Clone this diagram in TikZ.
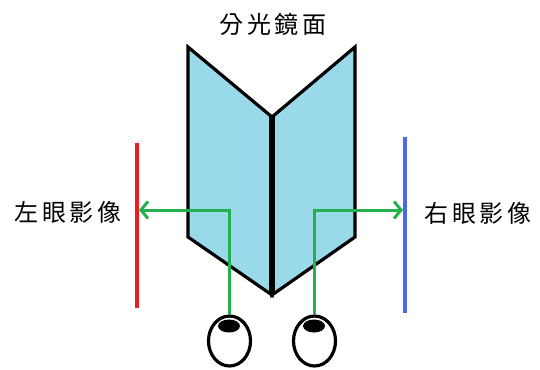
\documentclass[tikz,border=0pt]{standalone}
\usepackage{fontspec}
\newfontfamily\cjk[LetterSpace=14]{Noto Sans CJK TC}
\usetikzlibrary{arrows.meta,shapes.geometric}

\definecolor{mirrorblue}{RGB}{153,217,234}
\definecolor{raygreen}{RGB}{34,177,76}
\definecolor{leftred}{RGB}{237,28,36}
\definecolor{rightblue}{RGB}{72,104,240}

\begin{document}
\begin{tikzpicture}[x=1pt,y=1pt,yscale=-1,xscale=1,
  label/.style = {font=\cjk\fontsize{24}{28}\selectfont, inner sep=0pt},
  panel/.style = {draw=black, line width=3.2pt, fill=mirrorblue, line join=miter},
  ray/.style = {draw=raygreen, line width=3pt},
  screen/.style = {line width=4.4pt},
  eye/.style = {draw, ellipse, line width=3.2pt, minimum width=42pt, minimum height=50pt, inner sep=0pt},
  pupil/.style = {fill=black, ellipse, minimum width=22pt, minimum height=13pt, inner sep=0pt},
  >={Straight Barb[length=7pt,width=17pt]}
  ]
  \useasboundingbox (0,0) rectangle (540,369);

  % the two halves of the mirror
  \coordinate (top) at (272,117);
  \coordinate (bottom) at (272,295);
  \draw[panel] (188,47) -- (top) -- (bottom) -- (188,237) -- cycle;
  \draw[panel] (355,47) -- (top) -- (bottom) -- (355,237) -- cycle;
  \draw[line width=5.4pt] (top) -- (bottom);

  \node[label] (title) at (273,24) {分光鏡面};

  % image planes
  \coordinate (ltop) at (137,143);
  \coordinate (lbot) at (137,308);
  \coordinate (rtop) at (405,137);
  \coordinate (rbot) at (405,313);
  \draw[screen, leftred] (ltop) -- (lbot);
  \draw[screen, rightblue] (rtop) -- (rbot);
  \coordinate (lhit) at (139,210);
  \coordinate (rhit) at (403,210);

  \node[label] (ltext) at (68,212) {左眼影像};
  \node[label] (rtext) at (478,213) {右眼影像};

  % eyes
  \node[eye] (leye) at (229.5,341) {};
  \node[eye] (reye) at (314.5,341) {};
  \node[pupil] (lpupil) at (229,326) {};
  \node[pupil] (rpupil) at (314,326) {};

  \draw[ray,->] (leye.north) |- (lhit);
  \draw[ray,->] (reye.north) |- (rhit);

\end{tikzpicture}
\end{document}
